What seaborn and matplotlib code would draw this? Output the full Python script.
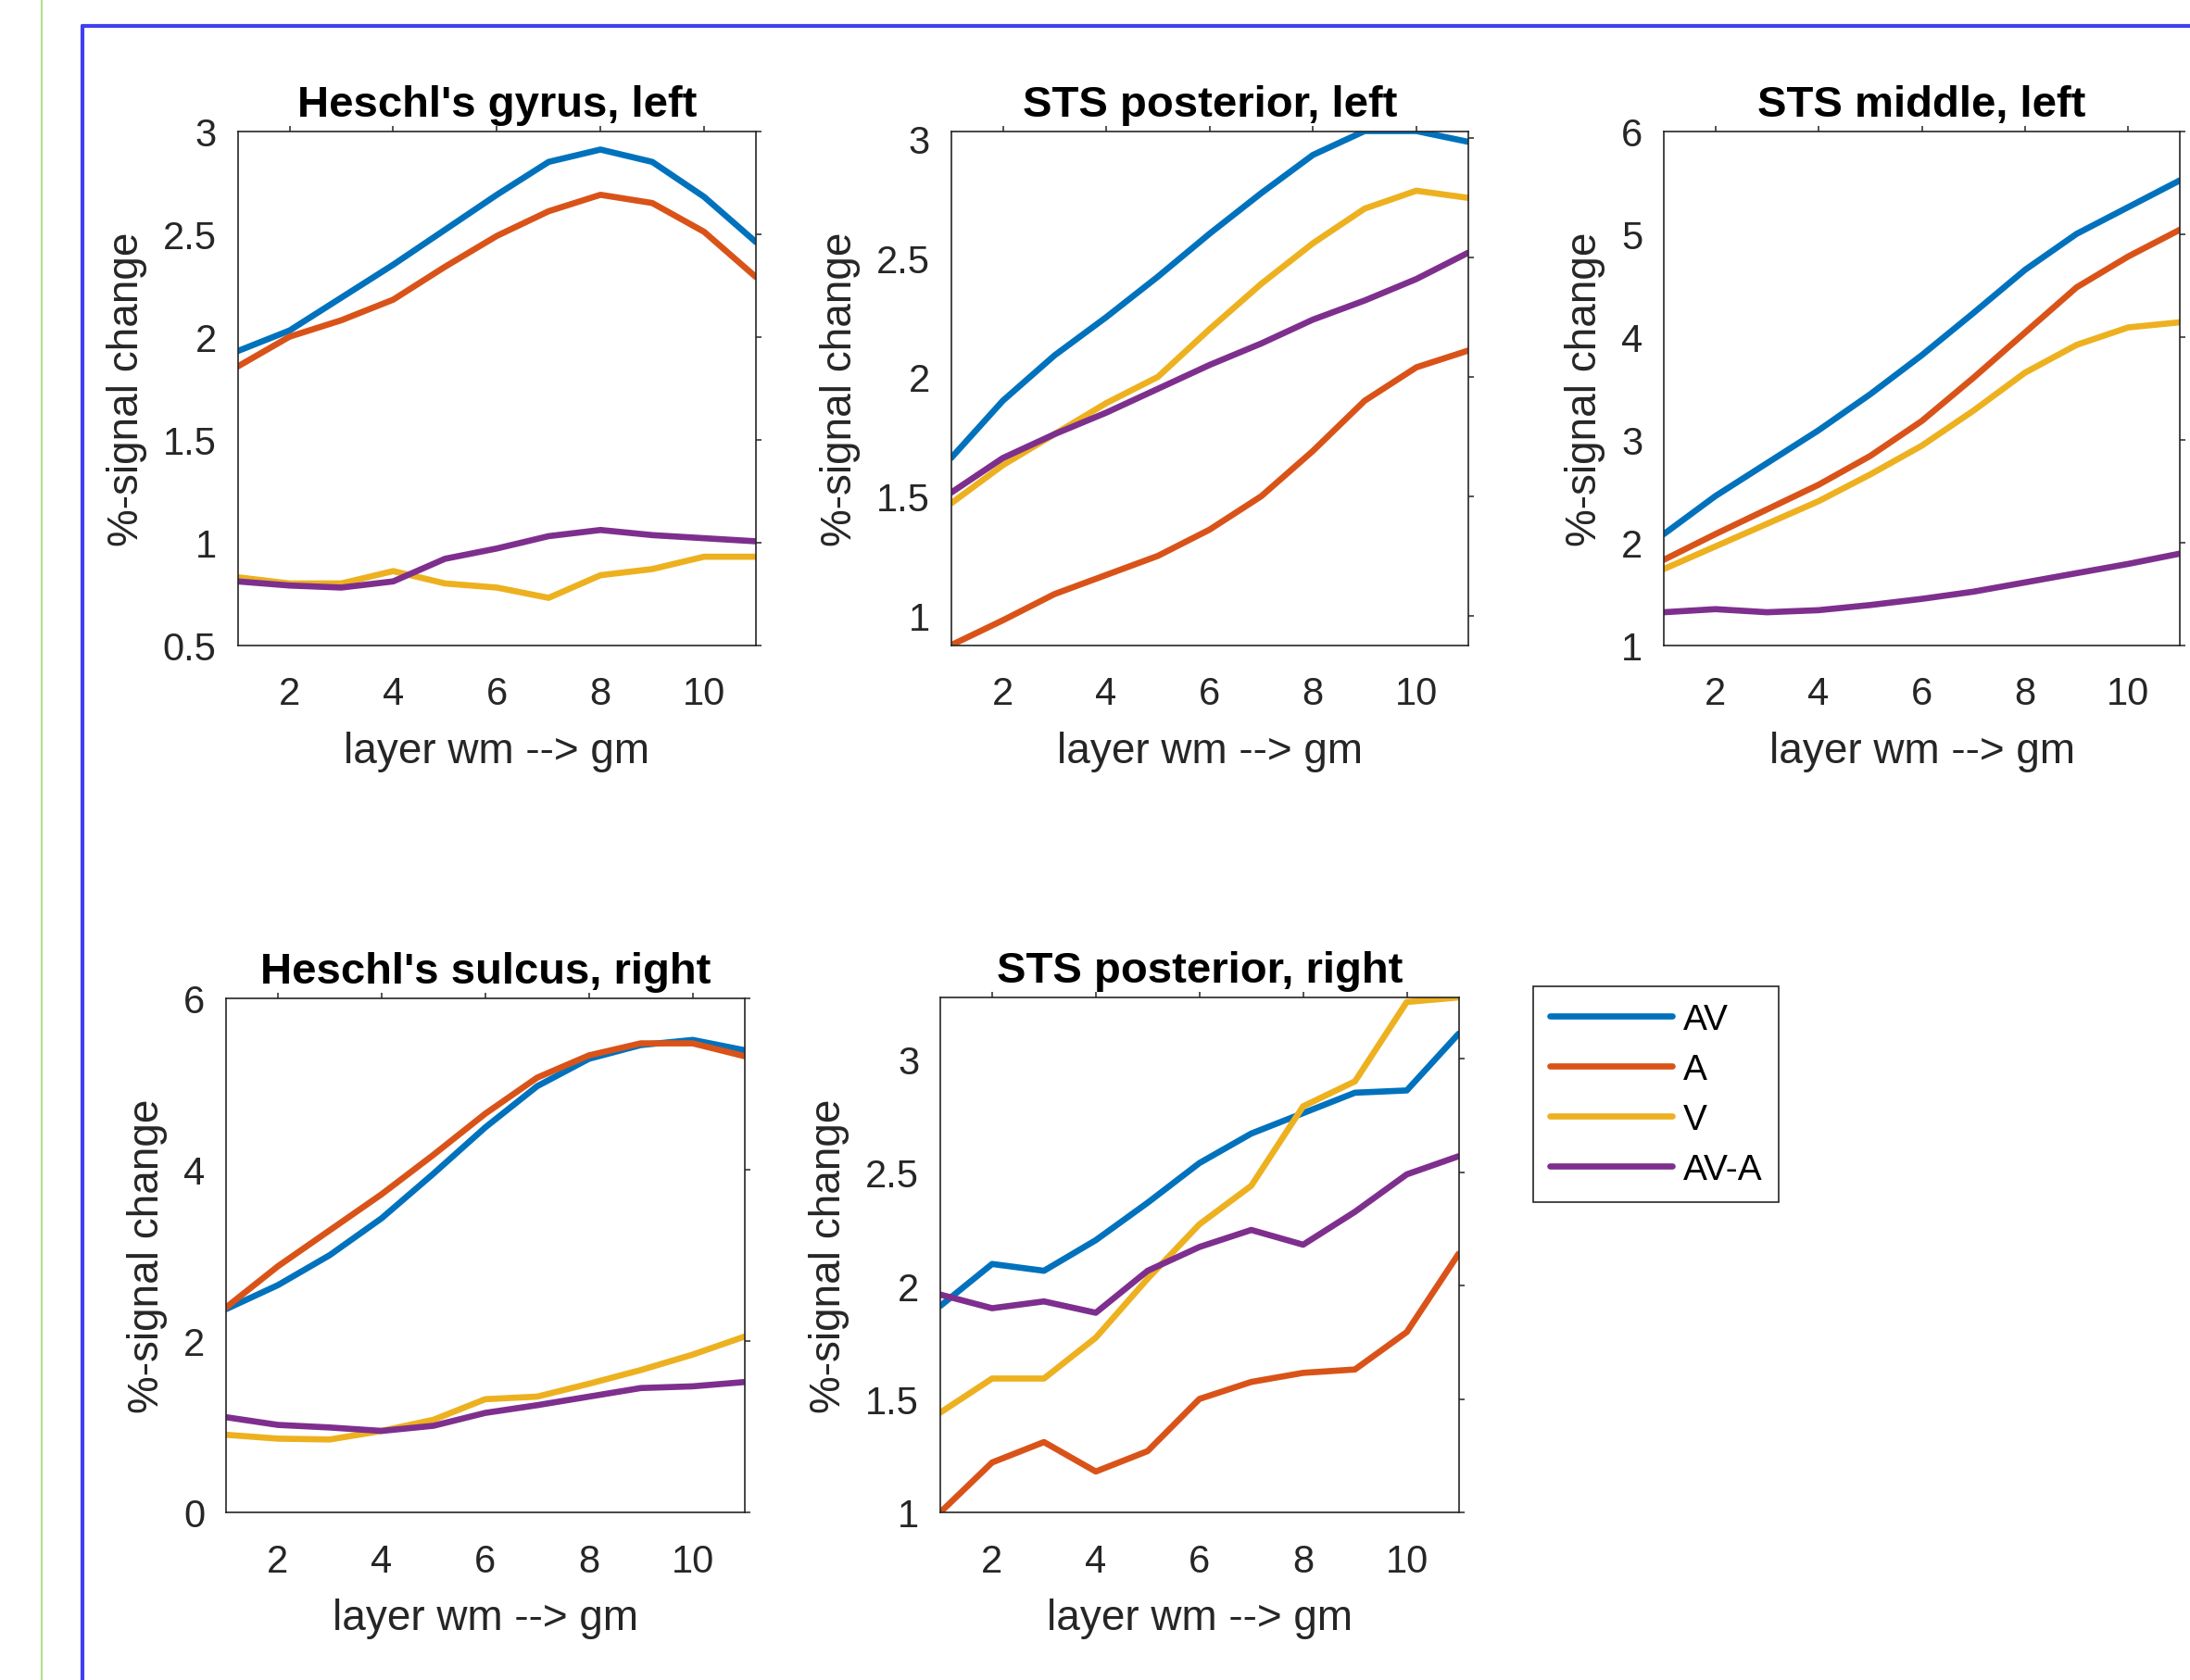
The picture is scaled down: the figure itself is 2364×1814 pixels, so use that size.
import matplotlib
matplotlib.use("Agg")
import numpy as np
import pandas as pd
import matplotlib.pyplot as plt
import seaborn as sns
from matplotlib.lines import Line2D
from matplotlib.ticker import FuncFormatter

sns.set_theme(style="white")
plt.rcParams['font.family'] = ['Liberation Sans', 'DejaVu Sans']

W, H = 2364, 1815

layers = list(range(1, 12))
conditions = ['AV', 'A', 'V', 'AV-A']
colors = ['#0072BD', '#D95319', '#EDB120', '#7E2F8E']

# Heschl's gyrus, left
hg_left_av = [1.93, 2.03, 2.19, 2.35, 2.52, 2.69, 2.85, 2.91, 2.85, 2.68, 2.46]
hg_left_a = [1.855, 2.00, 2.08, 2.18, 2.34, 2.49, 2.61, 2.69, 2.65, 2.51, 2.29]
hg_left_v = [0.83, 0.80, 0.80, 0.86, 0.80, 0.78, 0.73, 0.84, 0.87, 0.93, 0.93]
hg_left_ava = [0.81, 0.79, 0.78, 0.81, 0.92, 0.97, 1.03, 1.06, 1.035, 1.02, 1.005]

# STS posterior, left
stsp_left_av = [1.66, 1.90, 2.09, 2.25, 2.42, 2.60, 2.77, 2.93, 3.03, 3.03, 2.985]
stsp_left_a = [0.876, 0.98, 1.09, 1.17, 1.25, 1.36, 1.50, 1.69, 1.90, 2.04, 2.11]
stsp_left_v = [1.47, 1.63, 1.76, 1.89, 2.00, 2.20, 2.39, 2.56, 2.705, 2.78, 2.75]
stsp_left_ava = [1.515, 1.66, 1.76, 1.85, 1.95, 2.05, 2.14, 2.24, 2.32, 2.41, 2.52]

# STS middle, left
stsm_left_av = [2.08, 2.45, 2.77, 3.09, 3.44, 3.82, 4.23, 4.65, 5.00, 5.26, 5.52]
stsm_left_a = [1.83, 2.08, 2.32, 2.56, 2.84, 3.18, 3.60, 4.04, 4.48, 4.78, 5.04]
stsm_left_v = [1.74, 1.96, 2.18, 2.40, 2.66, 2.94, 3.28, 3.65, 3.92, 4.09, 4.14]
stsm_left_ava = [1.32, 1.35, 1.32, 1.34, 1.39, 1.45, 1.52, 1.61, 1.70, 1.79, 1.89]

# Heschl's sulcus, right
hs_right_av = [2.37, 2.65, 3.00, 3.43, 3.95, 4.49, 4.97, 5.29, 5.45, 5.51, 5.39]
hs_right_a = [2.39, 2.87, 3.29, 3.71, 4.17, 4.65, 5.07, 5.33, 5.47, 5.47, 5.32]
hs_right_v = [0.905, 0.86, 0.85, 0.95, 1.08, 1.32, 1.35, 1.50, 1.66, 1.84, 2.05]
hs_right_ava = [1.11, 1.02, 0.99, 0.95, 1.01, 1.16, 1.25, 1.35, 1.45, 1.47, 1.52]

# STS posterior, right
stsp_right_av = [1.91, 2.095, 2.065, 2.20, 2.365, 2.54, 2.67, 2.76, 2.85, 2.86, 3.11]
stsp_right_a = [1.00, 1.22, 1.31, 1.18, 1.27, 1.50, 1.575, 1.615, 1.63, 1.795, 2.14]
stsp_right_v = [1.44, 1.59, 1.59, 1.77, 2.03, 2.27, 2.44, 2.79, 2.90, 3.25, 3.27]
stsp_right_ava = [1.96, 1.90, 1.93, 1.88, 2.065, 2.17, 2.245, 2.18, 2.325, 2.49, 2.57]

xticks = [2, 4, 6, 8, 10]

panels = [
    ("Heschl's gyrus, left", [hg_left_av, hg_left_a, hg_left_v, hg_left_ava],
     (0.5, 3), [0.5, 1, 1.5, 2, 2.5, 3], (256.6, 816, 142.5, 697.6)),
    ("STS posterior, left", [stsp_left_av, stsp_left_a, stsp_left_v, stsp_left_ava],
     None, [1, 1.5, 2, 2.5, 3], (1026.7, 1584.7, 142.5, 697.6)),
    ("STS middle, left", [stsm_left_av, stsm_left_a, stsm_left_v, stsm_left_ava],
     (1, 6), [1, 2, 3, 4, 5, 6], (1796, 2353, 142.5, 697.6)),
    ("Heschl's sulcus, right", [hs_right_av, hs_right_a, hs_right_v, hs_right_ava],
     (0, 6), [0, 2, 4, 6], (244, 803.7, 1078.5, 1634)),
    ("STS posterior, right", [stsp_right_av, stsp_right_a, stsp_right_v, stsp_right_ava],
     None, [1, 1.5, 2, 2.5, 3], (1015, 1574.5, 1078, 1634)),
]

fig = plt.figure(figsize=(W / 100, H / 100), dpi=100)
fig.patch.set_facecolor('white')

# screenshot frame lines
fig.add_artist(Line2D([45 / W, 45 / W], [0, 1], transform=fig.transFigure,
                      color='#b6e08c', lw=1.6))
fig.add_artist(Line2D([89 / W, 89 / W], [0, 1 - 29 / H], transform=fig.transFigure,
                      color='#4040f0', lw=3))
fig.add_artist(Line2D([89 / W, 1], [1 - 29 / H, 1 - 29 / H], transform=fig.transFigure,
                      color='#4040f0', lw=3))

fmt = FuncFormatter(lambda v, p: f'{v:g}')
axes = []
for title, series, ylim, yticks, (l, r, t, b) in panels:
    ax = fig.add_axes([l / W, 1 - b / H, (r - l) / W, (b - t) / H])
    df = pd.DataFrame({
        'layer': layers * len(conditions),
        'value': np.concatenate(series),
        'condition': np.repeat(conditions, len(layers)),
    })
    sns.lineplot(data=df, x='layer', y='value', hue='condition', hue_order=conditions,
                 palette=colors, lw=4.8, legend=False, errorbar=None, ax=ax)
    if ylim is None:
        ylim = (df['value'].min(), df['value'].max())
    ax.set_xlim(1, 11)
    ax.set_ylim(*ylim)
    ax.set_xticks(xticks)
    ax.set_yticks(yticks)
    ax.yaxis.set_major_formatter(fmt)
    ax.tick_params(axis='both', direction='out', length=4.5, width=1.1,
                   top=True, right=True, colors='#262626', labelsize=30)
    ax.tick_params(axis='x', pad=19)
    ax.tick_params(axis='y', pad=12)
    for s in ax.spines.values():
        s.set_visible(True)
        s.set_color('#262626')
        s.set_linewidth(1.2)
    ax.set_xlabel('layer wm --> gm', fontsize=33, color='#262626', labelpad=14)
    ax.set_ylabel('%-signal change', fontsize=33, color='#262626', labelpad=12)
    ax.set_title(title, fontsize=34, fontweight='bold', color='black', pad=12)
    axes.append(ax)

handles = axes[4].get_lines()[:4]
leg = fig.legend(handles, conditions, loc='upper left',
                 bbox_to_anchor=(1655 / W, 1 - 1066 / H), bbox_transform=fig.transFigure,
                 frameon=True, fancybox=False, framealpha=1, edgecolor='#262626',
                 borderaxespad=0, fontsize=28, handlelength=3.4, handletextpad=0.3,
                 labelspacing=0.46, borderpad=0.46)
leg.get_frame().set_linewidth(1.2)
for txt in leg.get_texts():
    txt.set_color('black')

fig.savefig('out.png', dpi=100, facecolor='white')
